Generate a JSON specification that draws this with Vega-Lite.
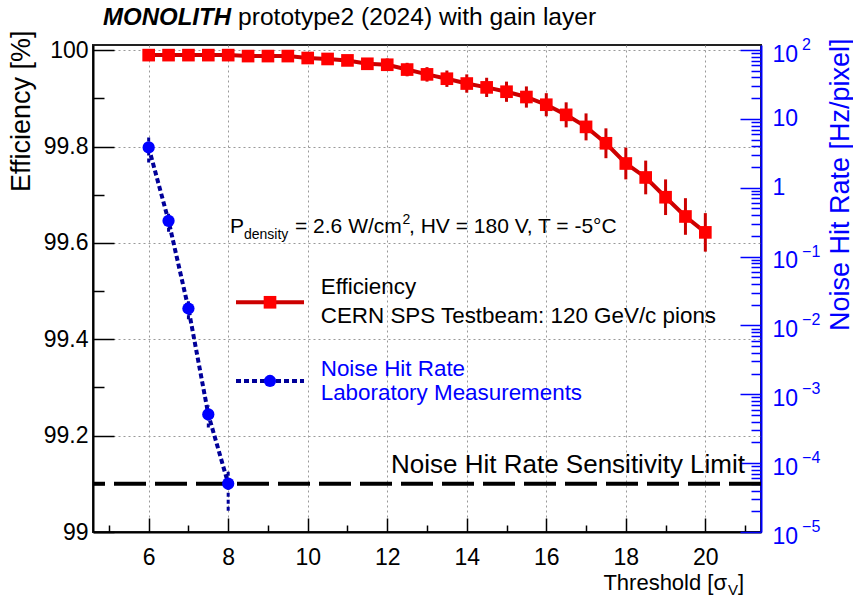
{
  "$schema": "https://vega.github.io/schema/vega-lite/v6.json",
  "width": 668,
  "height": 487,
  "autosize": "none",
  "padding": {"left": 93, "top": 45, "right": 92, "bottom": 70},
  "background": "white",
  "config": {
    "view": {"stroke": "#222222", "strokeWidth": 2},
    "font": "Liberation Sans",
    "text": {"font": "Liberation Sans"},
    "axis": {"labelFont": "Liberation Sans", "titleFont": "Liberation Sans", "labelOverlap": false, "labelFlush": false, "labelBound": false}
  },
  "datasets": {
    "eff": [
      {"thr": 6, "eff": 99.990, "lo": 99.982, "hi": 99.998},
      {"thr": 6.5, "eff": 99.990, "lo": 99.982, "hi": 99.998},
      {"thr": 7, "eff": 99.990, "lo": 99.982, "hi": 99.998},
      {"thr": 7.5, "eff": 99.990, "lo": 99.982, "hi": 99.998},
      {"thr": 8, "eff": 99.990, "lo": 99.982, "hi": 99.998},
      {"thr": 8.5, "eff": 99.988, "lo": 99.979, "hi": 99.997},
      {"thr": 9, "eff": 99.988, "lo": 99.979, "hi": 99.997},
      {"thr": 9.5, "eff": 99.988, "lo": 99.979, "hi": 99.997},
      {"thr": 10, "eff": 99.984, "lo": 99.975, "hi": 99.993},
      {"thr": 10.5, "eff": 99.982, "lo": 99.972, "hi": 99.992},
      {"thr": 11, "eff": 99.979, "lo": 99.969, "hi": 99.989},
      {"thr": 11.5, "eff": 99.972, "lo": 99.961, "hi": 99.983},
      {"thr": 12, "eff": 99.970, "lo": 99.957, "hi": 99.983},
      {"thr": 12.5, "eff": 99.960, "lo": 99.946, "hi": 99.974},
      {"thr": 13, "eff": 99.950, "lo": 99.935, "hi": 99.965},
      {"thr": 13.5, "eff": 99.941, "lo": 99.924, "hi": 99.958},
      {"thr": 14, "eff": 99.931, "lo": 99.912, "hi": 99.950},
      {"thr": 14.5, "eff": 99.923, "lo": 99.903, "hi": 99.943},
      {"thr": 15, "eff": 99.914, "lo": 99.893, "hi": 99.935},
      {"thr": 15.5, "eff": 99.903, "lo": 99.881, "hi": 99.925},
      {"thr": 16, "eff": 99.887, "lo": 99.863, "hi": 99.911},
      {"thr": 16.5, "eff": 99.866, "lo": 99.840, "hi": 99.892},
      {"thr": 17, "eff": 99.841, "lo": 99.813, "hi": 99.869},
      {"thr": 17.5, "eff": 99.807, "lo": 99.776, "hi": 99.838},
      {"thr": 18, "eff": 99.765, "lo": 99.732, "hi": 99.798},
      {"thr": 18.5, "eff": 99.736, "lo": 99.701, "hi": 99.771},
      {"thr": 19, "eff": 99.695, "lo": 99.658, "hi": 99.732},
      {"thr": 19.5, "eff": 99.655, "lo": 99.617, "hi": 99.693},
      {"thr": 20, "eff": 99.622, "lo": 99.582, "hi": 99.662}
    ],
    "nhr": [
      {"thr": 6, "nhr": 3.85, "lo": 2.33, "hi": 5.37},
      {"thr": 6.5, "nhr": 0.33, "lo": 0.23, "hi": 0.43},
      {"thr": 7, "nhr": 0.0176, "lo": 0.0123, "hi": 0.0229},
      {"thr": 7.5, "nhr": 0.00051, "lo": 0.00033, "hi": 0.00069},
      {"thr": 8, "nhr": 0.0000504, "lo": 0.0000204, "hi": 0.00008}
    ],
    "exponents": [
      {"dec": 0.00001, "e": "−5"},
      {"dec": 0.0001, "e": "−4"},
      {"dec": 0.001, "e": "−3"},
      {"dec": 0.01, "e": "−2"},
      {"dec": 0.1, "e": "−1"},
      {"dec": 100, "e": "2"}
    ]
  },
  "layer": [
    {
      "layer": [
        {
          "data": {"name": "eff"},
          "mark": {"type": "rule", "color": "#cc0000", "strokeWidth": 3},
          "encoding": {
            "x": {
              "field": "thr", "type": "quantitative",
              "scale": {"domain": [4.6, 21.4], "nice": false, "zero": false},
              "axis": {
                "values": [5, 5.5, 6, 6.5, 7, 7.5, 8, 8.5, 9, 9.5, 10, 10.5, 11, 11.5, 12, 12.5, 13, 13.5, 14, 14.5, 15, 15.5, 16, 16.5, 17, 17.5, 18, 18.5, 19, 19.5, 20, 20.5, 21],
                "labelExpr": "(datum.value % 2 === 0 && datum.value >= 6) ? '' + datum.value : ''",
                "tickSize": {"condition": {"test": "datum.value % 2 === 0", "value": -14}, "value": -7},
                "tickColor": "black", "tickWidth": 1.5,
                "domainColor": "black", "domainWidth": 2,
                "grid": true, "gridColor": "#999999", "gridDash": [2, 3], "gridWidth": 1,
                "gridOpacity": {"condition": {"test": "datum.value % 2 === 0", "value": 1}, "value": 0},
                "labelFontSize": 23, "labelColor": "black", "labelPadding": 28, "labelBaseline": "top",
                "title": null
              }
            },
            "y": {
              "field": "lo", "type": "quantitative",
              "scale": {"domain": [99, 100.011], "nice": false, "zero": false},
              "axis": {
                "values": [99, 99.05, 99.1, 99.15, 99.2, 99.25, 99.3, 99.35, 99.4, 99.45, 99.5, 99.55, 99.6, 99.65, 99.7, 99.75, 99.8, 99.85, 99.9, 99.95, 100],
                "labelExpr": "abs(datum.value*5 - round(datum.value*5)) < 0.001 ? '' + round(datum.value*10)/10 : ''",
                "tickSize": {"condition": {"test": "abs(datum.value*5 - round(datum.value*5)) < 0.001", "value": -21}, "value": -11},
                "tickColor": "black", "tickWidth": 1.5,
                "domainColor": "black", "domainWidth": 2,
                "grid": true, "gridColor": "#999999", "gridDash": [2, 3], "gridWidth": 1,
                "gridOpacity": {"condition": {"test": "abs(datum.value*5 - round(datum.value*5)) < 0.001", "value": 1}, "value": 0},
                "labelFontSize": 23, "labelColor": "black", "labelPadding": 26,
                "title": "Efficiency [%]", "titleFontSize": 27, "titleFontWeight": "normal", "titleColor": "black",
                "titleAngle": 270, "titleAlign": "right", "titleBaseline": "alphabetic",
                "titleX": -64, "titleY": -15
              }
            },
            "y2": {"field": "hi"}
          }
        },
        {
          "data": {"name": "eff"},
          "mark": {"type": "line", "color": "#cc0000", "strokeWidth": 4},
          "encoding": {
            "x": {"field": "thr", "type": "quantitative"},
            "y": {"field": "eff", "type": "quantitative"}
          }
        },
        {
          "data": {"name": "eff"},
          "mark": {"type": "square", "color": "#ff0000", "size": 160, "opacity": 1},
          "encoding": {
            "x": {"field": "thr", "type": "quantitative"},
            "y": {"field": "eff", "type": "quantitative"}
          }
        },
        {
          "data": {"values": [{}]},
          "mark": {"type": "rule", "color": "black", "strokeWidth": 4, "strokeDash": [32, 9]},
          "encoding": {"y": {"datum": 99.1}}
        },
        {
          "data": {"values": [{}]},
          "mark": {"type": "rule", "color": "#cc0000", "strokeWidth": 4},
          "encoding": {"x": {"datum": 8.1966}, "x2": {"datum": 9.907}, "y": {"datum": 99.4769}}
        },
        {
          "data": {"values": [{}]},
          "mark": {"type": "square", "color": "#ff0000", "size": 160, "opacity": 1},
          "encoding": {"x": {"datum": 9.0517}, "y": {"datum": 99.4769}}
        },
        {
          "data": {"values": [{}]},
          "mark": {"type": "rule", "color": "#000099", "strokeWidth": 4, "strokeDash": [5, 3]},
          "encoding": {"x": {"datum": 8.1966}, "x2": {"datum": 9.907}, "y": {"datum": 99.3135}}
        },
        {
          "data": {"values": [{}]},
          "mark": {"type": "circle", "color": "#0000ff", "size": 150, "opacity": 1},
          "encoding": {"x": {"datum": 9.0517}, "y": {"datum": 99.3135}}
        },
        {
          "data": {"values": [{"t": "Efficiency"}]},
          "mark": {"type": "text", "fontSize": 22.4, "align": "left", "baseline": "alphabetic", "color": "black"},
          "encoding": {"x": {"datum": 10.327}, "y": {"datum": 99.4941}, "text": {"field": "t"}}
        },
        {
          "data": {"values": [{"t": "CERN SPS Testbeam: 120 GeV/c pions"}]},
          "mark": {"type": "text", "fontSize": 22.4, "align": "left", "baseline": "alphabetic", "color": "black"},
          "encoding": {"x": {"datum": 10.327}, "y": {"datum": 99.4345}, "text": {"field": "t"}}
        },
        {
          "data": {"values": [{"t": "Noise Hit Rate"}]},
          "mark": {"type": "text", "fontSize": 22.4, "align": "left", "baseline": "alphabetic", "color": "#0000ff"},
          "encoding": {"x": {"datum": 10.327}, "y": {"datum": 99.3245}, "text": {"field": "t"}}
        },
        {
          "data": {"values": [{"t": "Laboratory Measurements"}]},
          "mark": {"type": "text", "fontSize": 22.4, "align": "left", "baseline": "alphabetic", "color": "#0000ff"},
          "encoding": {"x": {"datum": 10.327}, "y": {"datum": 99.274}, "text": {"field": "t"}}
        },
        {
          "data": {"values": [{"t": "Noise Hit Rate Sensitivity Limit"}]},
          "mark": {"type": "text", "fontSize": 26, "align": "right", "baseline": "alphabetic", "color": "black"},
          "encoding": {"x": {"datum": 20.998}, "y": {"datum": 99.1225}, "text": {"field": "t"}}
        },
        {
          "data": {"values": [{"t": "P"}]},
          "mark": {"type": "text", "fontSize": 21, "align": "left", "baseline": "alphabetic", "color": "black"},
          "encoding": {"x": {"datum": 8.0457}, "y": {"datum": 99.6201}, "text": {"field": "t"}}
        },
        {
          "data": {"values": [{"t": "density"}]},
          "mark": {"type": "text", "fontSize": 14, "align": "left", "baseline": "alphabetic", "color": "black", "dy": 6},
          "encoding": {"x": {"datum": 8.3978}, "y": {"datum": 99.6201}, "text": {"field": "t"}}
        },
        {
          "data": {"values": [{"t": "= 2.6 W/cm"}]},
          "mark": {"type": "text", "fontSize": 21, "align": "left", "baseline": "alphabetic", "color": "black"},
          "encoding": {"x": {"datum": 9.6805}, "y": {"datum": 99.6201}, "text": {"field": "t"}}
        },
        {
          "data": {"values": [{"t": "2"}]},
          "mark": {"type": "text", "fontSize": 14, "align": "left", "baseline": "alphabetic", "color": "black", "dy": -9},
          "encoding": {"x": {"datum": 12.384}, "y": {"datum": 99.6201}, "text": {"field": "t"}}
        },
        {
          "data": {"values": [{"t": ", HV = 180 V, T = -5°C"}]},
          "mark": {"type": "text", "fontSize": 21, "align": "left", "baseline": "alphabetic", "color": "black"},
          "encoding": {"x": {"datum": 12.5477}, "y": {"datum": 99.6201}, "text": {"field": "t"}}
        },
        {
          "data": {"values": [{"t": "MONOLITH"}]},
          "mark": {"type": "text", "fontSize": 24, "fontWeight": "bold", "fontStyle": "italic", "align": "left", "baseline": "alphabetic", "color": "black"},
          "encoding": {"x": {"datum": 4.8515}, "y": {"datum": 100.0525}, "text": {"field": "t"}}
        },
        {
          "data": {"values": [{"t": "prototype2 (2024) with gain layer"}]},
          "mark": {"type": "text", "fontSize": 24.6, "align": "left", "baseline": "alphabetic", "color": "black"},
          "encoding": {"x": {"datum": 8.2469}, "y": {"datum": 100.0525}, "text": {"field": "t"}}
        },
        {
          "data": {"values": [{"t": "Threshold [σ"}]},
          "mark": {"type": "text", "fontSize": 22, "align": "right", "baseline": "alphabetic", "color": "black"},
          "encoding": {"x": {"datum": 20.546}, "y": {"datum": 98.879}, "text": {"field": "t"}}
        },
        {
          "data": {"values": [{"t": "V"}]},
          "mark": {"type": "text", "fontSize": 15, "align": "left", "baseline": "alphabetic", "color": "black", "dy": 5},
          "encoding": {"x": {"datum": 20.571}, "y": {"datum": 98.879}, "text": {"field": "t"}}
        },
        {
          "data": {"values": [{"t": "]"}]},
          "mark": {"type": "text", "fontSize": 22, "align": "left", "baseline": "alphabetic", "color": "black"},
          "encoding": {"x": {"datum": 20.822}, "y": {"datum": 98.879}, "text": {"field": "t"}}
        }
      ]
    },
    {
      "layer": [
        {
          "data": {"name": "nhr"},
          "mark": {"type": "rule", "color": "#000099", "strokeWidth": 3, "strokeDash": [4, 3]},
          "encoding": {
            "x": {"field": "thr", "type": "quantitative"},
            "y": {
              "field": "lo", "type": "quantitative",
              "scale": {"type": "log", "domain": [0.00001, 118.2], "nice": false},
              "axis": {
                "orient": "right",
                "values": [0.00001, 0.00002, 0.00003, 0.00004, 0.00005, 0.00006, 0.00007, 0.00008, 0.00009,
                           0.0001, 0.0002, 0.0003, 0.0004, 0.0005, 0.0006, 0.0007, 0.0008, 0.0009,
                           0.001, 0.002, 0.003, 0.004, 0.005, 0.006, 0.007, 0.008, 0.009,
                           0.01, 0.02, 0.03, 0.04, 0.05, 0.06, 0.07, 0.08, 0.09,
                           0.1, 0.2, 0.3, 0.4, 0.5, 0.6, 0.7, 0.8, 0.9,
                           1, 2, 3, 4, 5, 6, 7, 8, 9,
                           10, 20, 30, 40, 50, 60, 70, 80, 90, 100],
                "labelExpr": "abs(log(datum.value)/LN10 - round(log(datum.value)/LN10)) < 0.001 ? (round(log(datum.value)/LN10) == 0 ? '1' : '10') : ''",
                "labelOffset": {"condition": {"test": "abs(log(datum.value)/LN10 - round(log(datum.value)/LN10)) < 0.001 && (datum.value < 0.5 || datum.value > 50)", "value": 4}, "value": 0},
                "tickSize": {"condition": {"test": "abs(log(datum.value)/LN10 - round(log(datum.value)/LN10)) < 0.001", "value": -21}, "value": -10},
                "tickColor": "#0000ff", "tickWidth": 1.5,
                "domainColor": "#0000ff", "domainWidth": 2,
                "grid": false,
                "labelFontSize": 23, "labelColor": "#0000ff", "labelPadding": 32,
                "title": "Noise Hit Rate [Hz/pixel]", "titleFontSize": 27, "titleFontWeight": "normal", "titleColor": "#0000ff",
                "titleAngle": 270, "titleAlign": "right", "titleBaseline": "alphabetic",
                "titleX": 87, "titleY": -7
              }
            },
            "y2": {"field": "hi"}
          }
        },
        {
          "data": {"name": "nhr"},
          "mark": {"type": "line", "color": "#000099", "strokeWidth": 4, "strokeDash": [5, 3]},
          "encoding": {
            "x": {"field": "thr", "type": "quantitative"},
            "y": {"field": "nhr", "type": "quantitative"}
          }
        },
        {
          "data": {"name": "nhr"},
          "mark": {"type": "circle", "color": "#0000ff", "size": 150, "opacity": 1},
          "encoding": {
            "x": {"field": "thr", "type": "quantitative"},
            "y": {"field": "nhr", "type": "quantitative"}
          }
        },
        {
          "data": {"name": "exponents"},
          "mark": {"type": "text", "fontSize": 16, "align": "left", "baseline": "middle", "color": "#0000ff", "dy": -5},
          "encoding": {
            "x": {"datum": 22.432},
            "y": {"field": "dec", "type": "quantitative"},
            "text": {"field": "e"}
          }
        }
      ]
    }
  ],
  "resolve": {"scale": {"y": "independent"}, "axis": {"y": "independent"}}
}
